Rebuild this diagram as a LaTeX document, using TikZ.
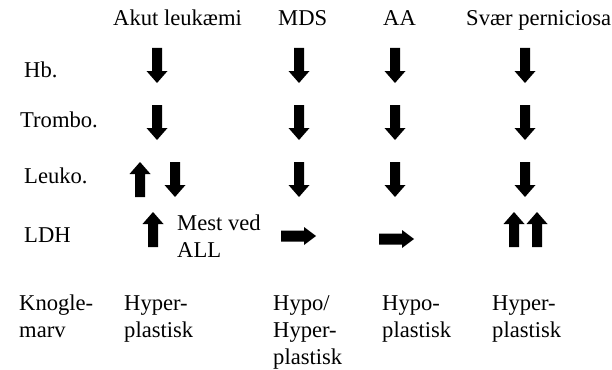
\documentclass[tikz,border=0pt]{standalone}
\usepackage{fontspec}
\setmainfont{Liberation Serif}
\begin{document}
\begin{tikzpicture}[x=1pt,y=-1pt,
  lbl/.style={anchor=base west, inner sep=0pt, align=left,
              font=\fontsize{22.6}{27}\selectfont},
  dnarr/.pic={\fill[black] (-5,0) -- (5,0) -- (5,23) -- (10.5,23) -- (0,35)
                -- (-10.5,23) -- (-5,23) -- cycle;},
  uparr/.pic={\fill[black] (-5,35) -- (5,35) -- (5,12) -- (10.5,12) -- (0,0)
                -- (-10.5,12) -- (-5,12) -- cycle;},
  rtarr/.pic={\fill[black] (0,-5.5) -- (23,-5.5) -- (23,-9) -- (35,0)
                -- (23,9) -- (23,5.5) -- (0,5.5) -- cycle;}]
\useasboundingbox (0,0) rectangle (612,369);

% column headers
\node[lbl] (hAL)  at (113,26) {Akut leukæmi};
\node[lbl] (hMDS) at (278,26) {MDS};
\node[lbl] (hAA)  at (383,26) {AA};
\node[lbl] (hSP)  at (466,26) {Svær perniciosa};

% row labels (multi-line labels are placed by the baseline of their last line)
\node[lbl] (rHb)  at (24,77)  {Hb.};
\node[lbl] (rTr)  at (20,127) {Trombo.};
\node[lbl] (rLe)  at (24,183) {Leuko.};
\node[lbl] (rLDH) at (24,242) {LDH};
\node[lbl] (rKm)  at (19,337) {Knogle-\\marv};

% Akut leukaemi
\pic (alHb) at (157,48)  {dnarr};
\pic (alTr) at (157,105) {dnarr};
\pic (alLu) at (140,162) {uparr};
\pic (alLd) at (175,162) {dnarr};
\pic (alLDH) at (153,212) {uparr};
\node[lbl] (alNote) at (177,257) {Mest ved\\ALL};
\node[lbl] (alKm) at (124,337) {Hyper-\\plastisk};

% MDS
\pic (mdHb) at (299,48)  {dnarr};
\pic (mdTr) at (299,105) {dnarr};
\pic (mdLe) at (299,162) {dnarr};
\pic (mdLDH) at (281,236) {rtarr};
\node[lbl] (mdKm) at (273,364) {Hypo/\\Hyper-\\plastisk};

% AA
\pic (aaHb) at (395,48)  {dnarr};
\pic (aaTr) at (395,105) {dnarr};
\pic (aaLe) at (395,162) {dnarr};
\pic (aaLDH) at (379,239) {rtarr};
\node[lbl] (aaKm) at (382,337) {Hypo-\\plastisk};

% Svaer perniciosa
\pic (spHb) at (525,48)  {dnarr};
\pic (spTr) at (525,105) {dnarr};
\pic (spLe) at (525,162) {dnarr};
\pic (spLDH1) at (514,212) {uparr};
\pic (spLDH2) at (537,212) {uparr};
\node[lbl] (spKm) at (492,337) {Hyper-\\plastisk};
\end{tikzpicture}
\end{document}
